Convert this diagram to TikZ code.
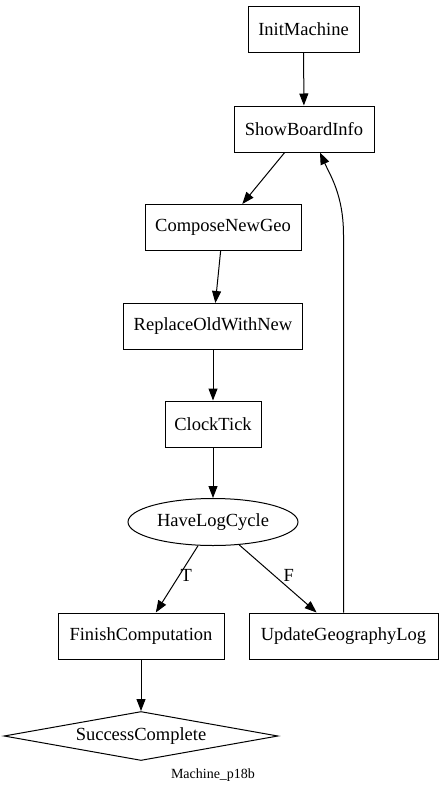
\documentclass[tikz,border=0pt]{standalone}
\usepackage{fontspec}
\setmainfont{Liberation Serif}
\usetikzlibrary{shapes.geometric,arrows.meta}
\begin{document}
\begin{tikzpicture}[x=1pt,y=-1pt,
  every node/.style={font=\fontsize{18.5}{21}\selectfont},
  box/.style={draw,line width=1pt,rectangle,minimum height=46pt,inner xsep=9pt},
  oval/.style={draw,line width=1pt,ellipse,minimum width=170pt,minimum height=47pt,inner sep=0pt},
  dia/.style={draw,line width=1pt,diamond,aspect=5.6,minimum height=49pt,minimum width=274pt,inner sep=0pt},
  arr/.style={line width=1pt,-{Triangle[length=12pt,width=9pt]}},
  lbl/.style={inner sep=1pt}]
\useasboundingbox (0,0) rectangle (441,792);
\node[box,minimum width=111pt] (IM) at (303.5,29.5) {InitMachine};
\node[box,minimum width=140pt] (SB) at (304,129) {ShowBoardInfo};
\node[box,minimum width=156pt] (CN) at (223,227.5) {ComposeNewGeo};
\node[box,minimum width=179pt] (RO) at (213,326.5) {ReplaceOldWithNew};
\node[box,minimum width=96pt] (CT) at (213,424) {ClockTick};
\node[oval] (HL) at (213,522) {HaveLogCycle};
\node[box,minimum width=166pt] (FC) at (141,636) {FinishComputation};
\node[box,minimum width=189pt] (UG) at (343.5,636) {UpdateGeographyLog};
\node[dia] (SC) at (141,736) {SuccessComplete};
\node[font=\fontsize{14}{16}\selectfont] (cap) at (213,775) {Machine\_p18b};
\coordinate (bend) at (343.5,235);
\draw[arr] (IM) -- (SB);
\draw[arr] (SB) -- (CN);
\draw[arr] (CN) -- (RO);
\draw[arr] (RO) -- (CT);
\draw[arr] (CT) -- (HL);
\draw[arr] (HL) -- node[lbl,pos=0.45,right] {T} (FC);
\draw[arr] (HL) -- node[lbl,pos=0.45,right=8pt] {F} (UG);
\draw[arr] (FC) -- (SC);
\draw[arr] (UG.north) -- (bend) .. controls (343.5,195) and (330,175) .. ([xshift=16pt]SB.south);
\end{tikzpicture}
\end{document}
